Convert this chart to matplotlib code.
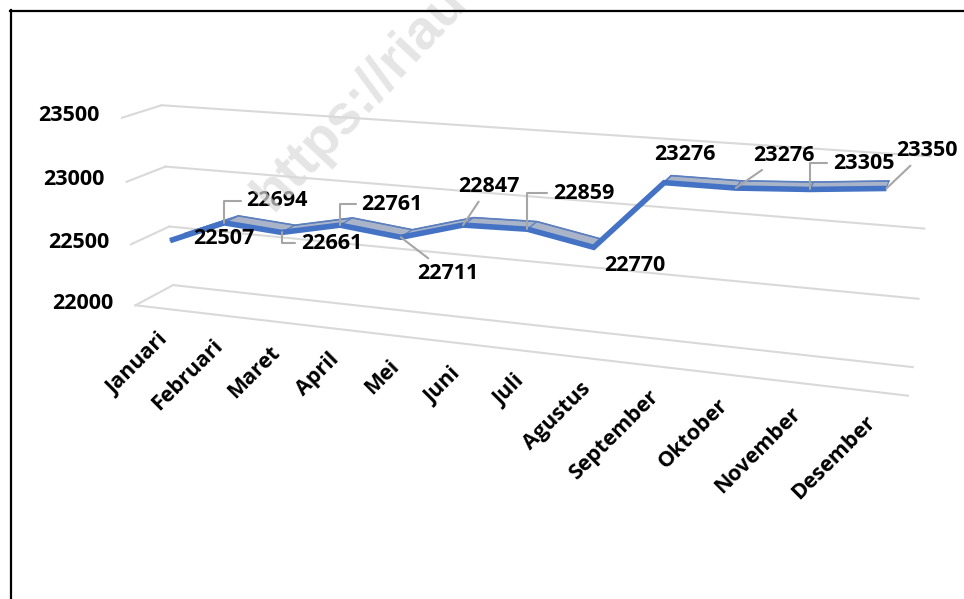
import numpy as np
import matplotlib
matplotlib.use("Agg")
import matplotlib.pyplot as plt
from matplotlib.lines import Line2D
from mpl_toolkits.mplot3d import proj3d
from mpl_toolkits.mplot3d.art3d import Poly3DCollection

# data
months = ["Januari", "Februari", "Maret", "April", "Mei", "Juni", "Juli",
          "Agustus", "September", "Oktober", "November", "Desember"]
values = [22507, 22694, 22661, 22761, 22711, 22847, 22859, 22770,
          23276, 23276, 23305, 23350]
z_ticks = [22000, 22500, 23000, 23500]

# label placement (pixel offsets from the point, y up) and leader style
label_offsets = [(54, 2), (53, 22), (50, -11), (52, 21), (47, -36), (26, 39),
                 (56, 36), (41, -18), (21, 28), (48, 33), (54, 26), (40, 38)]
leader_kind = [None, "elbow", "elbow", "elbow", "line", "line",
               "elbow", None, None, "line", "elbow", "line"]

BLUE = "#4472c4"
GRID = "#d9d9d9"
LEADER = "#a6a6a6"
FONT = dict(family="Open Sans", weight="bold", fontsize=15.5, color="black")

x = np.arange(len(months))
xmin, xmax = -0.5, len(months) - 0.5
zmin, zmax = z_ticks[0], z_ticks[-1]
y_front, y_back = 0.3, 0.7

W, H = 964, 599
side = 964
cx, cy = 487, H - 250
fig = plt.figure(figsize=(W / 100, H / 100), dpi=100)
ax = fig.add_axes([(cx - side / 2) / W, (cy - side / 2) / H, side / W, side / H],
                  projection="3d")
ax.set_proj_type("persp", focal_length=0.274)
ax.view_init(elev=15.6, azim=-71.2)
ax.set_box_aspect((2, 0.19, 0.51), zoom=0.843)
ax.set_xlim(xmin, xmax)
ax.set_ylim(0, 1)
ax.set_zlim(zmin, zmax)
ax.set_axis_off()
ax.computed_zorder = False

# walls: back gridlines, side wall segments, floor front edge
for z in z_ticks:
    ax.plot([xmin, xmax], [1, 1], [z, z], color=GRID, lw=1.5, zorder=1)
    ax.plot([xmin, xmin], [0, 1], [z, z], color=GRID, lw=1.5, zorder=1)
ax.plot([xmin, xmax], [0, 0], [zmin, zmin], color=GRID, lw=1.5, zorder=1)

# ribbon top face
verts = []
for i in range(len(values) - 1):
    verts.append([(x[i], y_front, values[i]), (x[i + 1], y_front, values[i + 1]),
                  (x[i + 1], y_back, values[i + 1]), (x[i], y_back, values[i])])
ribbon = Poly3DCollection(verts, facecolor="#a9b4c8", edgecolor="#5b7fbf",
                          linewidth=0.8, zorder=3)
ax.add_collection3d(ribbon)
ax.plot(x, [y_back] * len(x), values, color="#5b7fbf", lw=1.2, zorder=3)
ax.plot(x, [y_front] * len(x), values, color=BLUE, lw=4,
        solid_joinstyle="miter", solid_capstyle="butt", zorder=4)

M = ax.get_proj()

# value axis labels
for z in z_ticks:
    px, py, _ = proj3d.proj_transform(xmin, 0, z, M)
    ax.annotate(str(z), (px, py), xytext=(-22, 2), textcoords="offset pixels",
                ha="right", va="center", **FONT)

# category labels
for i, m in enumerate(months):
    px, py, _ = proj3d.proj_transform(x[i], 0, zmin, M)
    ax.annotate(m, (px, py), xytext=(2, -28), textcoords="offset pixels",
                ha="right", va="center", rotation=45, rotation_mode="anchor",
                **FONT)

# data labels with leader lines
for i, v in enumerate(values):
    px, py, _ = proj3d.proj_transform(x[i], y_front, v, M)
    kind = leader_kind[i]
    props = None
    if kind == "elbow":
        props = dict(arrowstyle="-", color=LEADER, lw=1.5, shrinkA=2, shrinkB=0,
                     connectionstyle="angle,angleA=0,angleB=90,rad=0")
    elif kind == "line":
        props = dict(arrowstyle="-", color=LEADER, lw=1.5, shrinkA=2, shrinkB=0)
    ax.annotate(str(v), (px, py), xytext=label_offsets[i],
                textcoords="offset pixels", ha="center", va="center",
                arrowprops=props, zorder=6, **FONT)

# watermark
fig.text(0.272, 0.66, "https://riau", rotation=47, fontsize=40,
         family="Liberation Sans", weight="bold", color="#dadada", alpha=0.7,
         ha="left", va="center", rotation_mode="anchor", zorder=0)

# frame
fig.add_artist(Line2D([10.5 / W, 10.5 / W], [0, 1 - 10 / H],
                      color="black", lw=1.6, transform=fig.transFigure))
fig.add_artist(Line2D([10 / W, 1], [1 - 10.5 / H, 1 - 10.5 / H],
                      color="black", lw=1.6, transform=fig.transFigure))

fig.savefig("out.png", dpi=100)
